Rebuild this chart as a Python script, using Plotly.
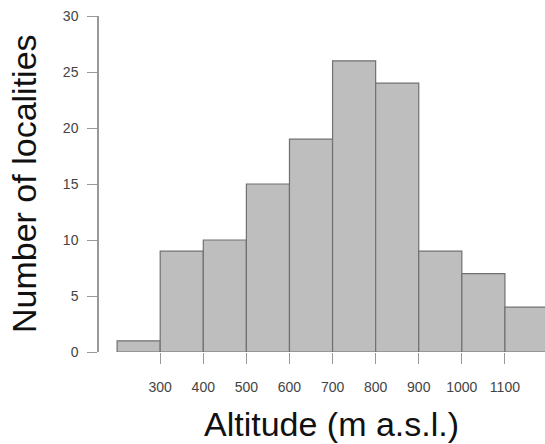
import plotly.graph_objects as go

bin_starts = [200, 300, 400, 500, 600, 700, 800, 900, 1000, 1100]
bin_width = 100
counts = [1, 9, 10, 15, 19, 26, 24, 9, 7, 4]
x_ticks = [300, 400, 500, 600, 700, 800, 900, 1000, 1100]
y_ticks = [0, 5, 10, 15, 20, 25, 30]
x_title = "Altitude (m a.s.l.)"
y_title = "Number of localities"

centers = [s + bin_width / 2 for s in bin_starts]

fig = go.Figure(go.Bar(
    x=centers, y=counts, width=[bin_width] * len(counts),
    marker=dict(color="#bebebe", line=dict(color="#707070", width=1.2)),
    hoverinfo="skip",
))

fig.update_layout(
    width=545, height=444,
    margin=dict(l=99, r=0, t=16, b=92),
    paper_bgcolor="white", plot_bgcolor="white",
    showlegend=False,
    font=dict(family="Liberation Sans, Arial, sans-serif", color="#444444"),
    xaxis=dict(
        range=[158, 1193], tickvals=x_ticks, ticktext=[str(v) for v in x_ticks],
        showgrid=False, zeroline=False, showline=False,
        ticks="outside", ticklen=11, tickcolor="#999999", tickwidth=1,
        tickfont=dict(size=14, color="#444444"), ticklabelstandoff=11,
    ),
    yaxis=dict(
        range=[0, 30], tickvals=y_ticks,
        showgrid=False, zeroline=False, showline=True, linecolor="#999999", linewidth=1.5,
        ticks="outside", ticklen=10, tickcolor="#999999", tickwidth=1,
        tickfont=dict(size=14, color="#444444"), ticklabelstandoff=6,
    ),
    annotations=[
        dict(text=x_title, xref="paper", yref="paper", x=(331 - 99) / 446, y=-(424 - 352) / 336,
             xanchor="center", yanchor="middle", showarrow=False,
             font=dict(size=34, color="#111111")),
        dict(text=y_title, xref="paper", yref="paper", x=-(99 - 24) / 446, y=(352 - 184) / 336,
             xanchor="center", yanchor="middle", showarrow=False, textangle=-90,
             font=dict(size=34, color="#111111")),
    ],
)

fig.write_html(
    "out.html",
    config={"displayModeBar": False},
    post_script="document.body.style.margin='0';document.body.style.overflow='hidden';",
)
